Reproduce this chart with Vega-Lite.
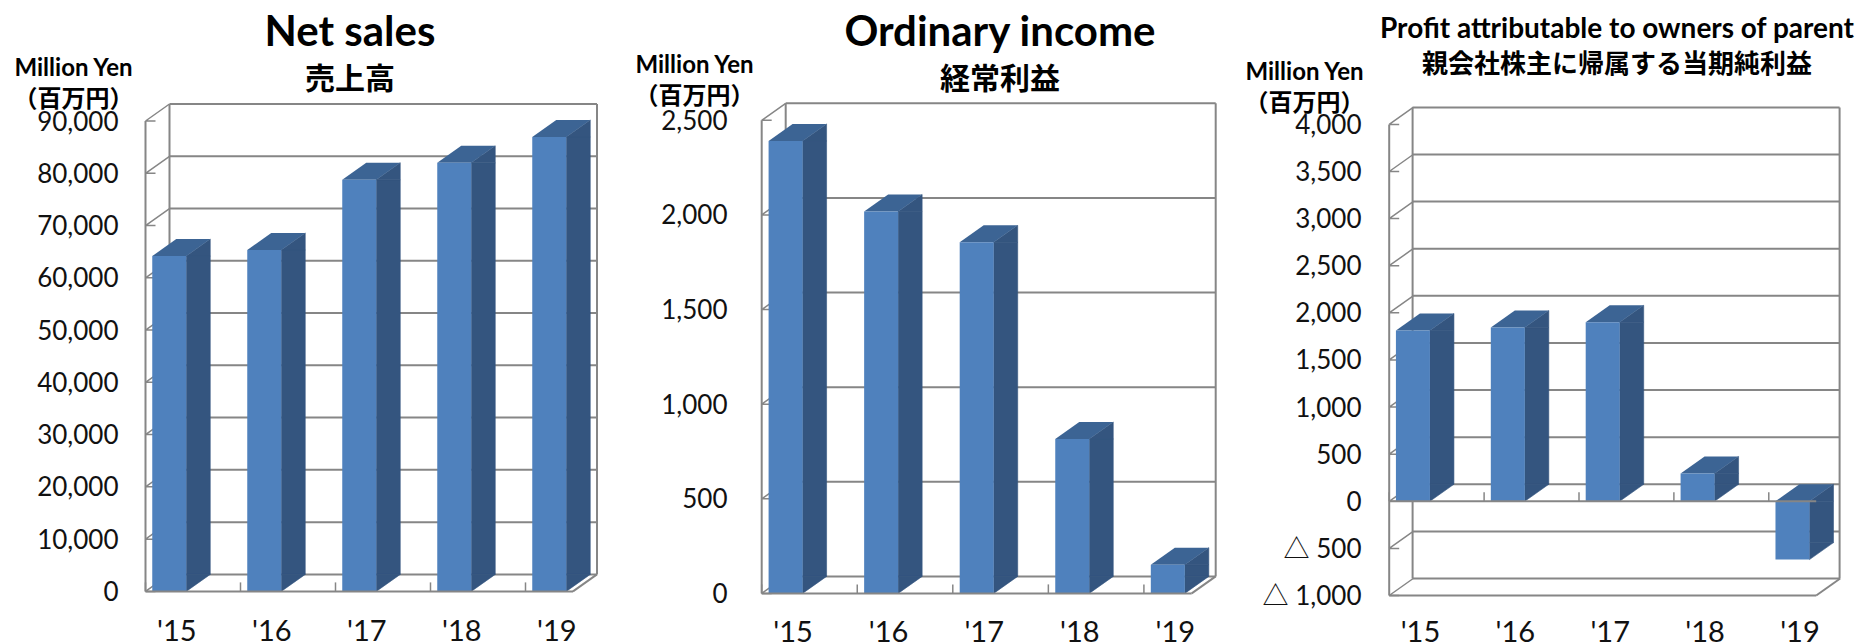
{"$schema":"https://vega.github.io/schema/vega-lite/v6.json","padding":0,"spacing":0,"background":"white","config":{"view":{"stroke":null},"font":"Lato","axis":{"grid":false,"domain":false,"ticks":false,"minExtent":0,"maxExtent":0,"labelFont":"Lato, Noto Sans CJK JP","labelFontSize":26,"labelColor":"#111111","labelOverlap":false,"labelFlush":false,"titleFont":"Lato, Noto Sans CJK JP","titleFontSize":24,"titleFontWeight":"bold","titleColor":"#000000"},"title":{"font":"Lato","fontWeight":"bold","color":"#000000","subtitleFont":"Noto Sans CJK JP","subtitleFontWeight":"bold","subtitleColor":"#000000"}},"datasets":{"sales":[{"year":2015,"value":64150},{"year":2016,"value":65330},{"year":2017,"value":78770},{"year":2018,"value":82000},{"year":2019,"value":86950}],"ordinary":[{"year":2015,"value":2391},{"year":2016,"value":2018},{"year":2017,"value":1855},{"year":2018,"value":816},{"year":2019,"value":152}],"profit":[{"year":2015,"value":1813},{"year":2016,"value":1844},{"year":2017,"value":1900},{"year":2018,"value":296},{"year":2019,"value":-619}],"t1":[{"tick":0},{"tick":10000},{"tick":20000},{"tick":30000},{"tick":40000},{"tick":50000},{"tick":60000},{"tick":70000},{"tick":80000},{"tick":90000}],"t2":[{"tick":0},{"tick":500},{"tick":1000},{"tick":1500},{"tick":2000},{"tick":2500}],"t3":[{"tick":-1000},{"tick":-500},{"tick":0},{"tick":500},{"tick":1000},{"tick":1500},{"tick":2000},{"tick":2500},{"tick":3000},{"tick":3500},{"tick":4000}],"one":[{"frame":1}]},"hconcat":[
{"width":620,"height":644,"title":{"text":"Net sales","subtitle":"売上高","fontSize":42,"subtitleFontSize":30,"anchor":"middle","frame":"group","dx":40,"offset":-96,"subtitlePadding":10},
"layer":[
{"data":{"name":"t1"},"mark":{"type":"rule","color":"#868686","strokeWidth":2,"xOffset":24,"x2Offset":24,"yOffset":-17},"encoding":{"y":{"field":"tick","type":"quantitative","scale":{"domain":[0,90000],"range":[591.4,121],"nice":false},"axis":{"values":[0,10000,20000,30000,40000,50000,60000,70000,80000,90000],"labelExpr":"format(datum.value, ',')","title":["Million Yen","（百万円）"],"titleAngle":0,"titleAlign":"center","titleBaseline":"middle","titleX":73,"titleY":68,"titleLineHeight":31,"labelPadding":-118,"labelOffset":1}},"x":{"datum":2014.75,"type":"quantitative","scale":{"domain":[2014.75,2019.25],"range":[145.5,573],"padding":0,"nice":false,"zero":false},"axis":{"values":[2015,2016,2017,2018,2019],"title":null,"labelExpr":"\"'\" + substring(toString(datum.value),2)","labelFontSize":29,"labelPadding":-27,"labelOffset":7}},"x2":{"datum":2019.25}}},
{"data":{"name":"one"},"mark":{"type":"rule","color":"#868686","strokeWidth":2,"xOffset":24,"yOffset":-17,"y2Offset":-17},"encoding":{"x":{"datum":2014.75,"type":"quantitative"},"y":{"datum":0,"type":"quantitative"},"y2":{"datum":90000}}},
{"data":{"name":"one"},"mark":{"type":"rule","color":"#868686","strokeWidth":2,"xOffset":24,"yOffset":-17,"y2Offset":-17},"encoding":{"x":{"datum":2019.25,"type":"quantitative"},"y":{"datum":0,"type":"quantitative"},"y2":{"datum":90000}}},
{"data":{"name":"one"},"mark":{"type":"rule","color":"#868686","strokeWidth":2},"encoding":{"x":{"datum":2014.75,"type":"quantitative"},"y":{"datum":0,"type":"quantitative"},"y2":{"datum":90000}}},
{"data":{"name":"t1"},"mark":{"type":"point","shape":"M0 0L24 -17M0 0L10 0","size":4,"filled":false,"stroke":"#868686","strokeWidth":1.5,"opacity":1},"encoding":{"x":{"datum":2014.75,"type":"quantitative"},"y":{"field":"tick","type":"quantitative"}}},
{"data":{"name":"one"},"mark":{"type":"point","shape":"M0 0L24 -17","size":4,"filled":false,"stroke":"#868686","strokeWidth":2,"opacity":1},"encoding":{"x":{"datum":2019.25,"type":"quantitative"},"y":{"datum":0,"type":"quantitative"}}},
{"data":{"name":"sales"},"mark":{"type":"rule","color":"#868686","strokeWidth":1.5,"xOffset":-23.75,"y2Offset":-9},"encoding":{"x":{"field":"year","type":"quantitative"},"y":{"datum":0,"type":"quantitative"},"y2":{"datum":0}}},
{"data":{"name":"sales"},"mark":{"type":"bar","orient":"vertical","color":"#34557f","stroke":"#34557f","strokeWidth":0.6,"width":24,"xOffset":29,"y2Offset":-17},"encoding":{"x":{"field":"year","type":"quantitative"},"y":{"field":"value","type":"quantitative"},"y2":{"datum":0}}},
{"data":{"name":"sales"},"mark":{"type":"point","shape":"M17 0L41 -17L41 0Z","size":4,"filled":true,"color":"#34557f","stroke":"#34557f","strokeWidth":0.6,"opacity":1},"encoding":{"x":{"field":"year","type":"quantitative"},"y":{"field":"value","type":"quantitative"}}},
{"data":{"name":"sales"},"mark":{"type":"point","shape":"M17 0L41 -17L17 -17Z","size":4,"filled":true,"color":"#34557f","stroke":"#34557f","strokeWidth":0.6,"opacity":1},"encoding":{"x":{"field":"year","type":"quantitative"},"y":{"datum":0,"type":"quantitative"}}},
{"data":{"name":"sales"},"mark":{"type":"point","shape":"M-17 0L7 -17L41 -17L17 0Z","size":4,"filled":true,"color":"#3c6494","opacity":1},"encoding":{"x":{"field":"year","type":"quantitative"},"y":{"field":"value","type":"quantitative"}}},
{"data":{"name":"sales"},"mark":{"type":"bar","orient":"vertical","color":"#4f81bd","width":34},"encoding":{"x":{"field":"year","type":"quantitative"},"y":{"field":"value","type":"quantitative"},"y2":{"datum":0}}},
{"data":{"name":"one"},"mark":{"type":"rule","color":"#868686","strokeWidth":2},"encoding":{"x":{"datum":2014.75,"type":"quantitative"},"x2":{"datum":2019.25},"y":{"datum":0,"type":"quantitative"}}}
]},
{"width":620,"height":644,"title":{"text":"Ordinary income","subtitle":"経常利益","fontSize":42,"subtitleFontSize":30,"anchor":"middle","frame":"group","dx":70,"offset":-96,"subtitlePadding":10},
"layer":[
{"data":{"name":"t2"},"mark":{"type":"rule","color":"#868686","strokeWidth":2,"xOffset":24,"x2Offset":24,"yOffset":-17},"encoding":{"y":{"field":"tick","type":"quantitative","scale":{"domain":[0,2500],"range":[593.4,120.3],"nice":false},"axis":{"values":[0,500,1000,1500,2000,2500],"labelExpr":"format(datum.value, ',')","title":["Million Yen","（百万円）"],"titleAngle":0,"titleAlign":"center","titleBaseline":"middle","titleX":74,"titleY":65,"titleLineHeight":31,"labelPadding":-107,"labelOffset":1}},"x":{"datum":2014.75,"type":"quantitative","scale":{"domain":[2014.75,2019.25],"range":[141.7,571.7],"padding":0,"nice":false,"zero":false},"axis":{"values":[2015,2016,2017,2018,2019],"title":null,"labelExpr":"\"'\" + substring(toString(datum.value),2)","labelFontSize":29,"labelPadding":-26,"labelOffset":7}},"x2":{"datum":2019.25}}},
{"data":{"name":"one"},"mark":{"type":"rule","color":"#868686","strokeWidth":2,"xOffset":24,"yOffset":-17,"y2Offset":-17},"encoding":{"x":{"datum":2014.75,"type":"quantitative"},"y":{"datum":0,"type":"quantitative"},"y2":{"datum":2500}}},
{"data":{"name":"one"},"mark":{"type":"rule","color":"#868686","strokeWidth":2,"xOffset":24,"yOffset":-17,"y2Offset":-17},"encoding":{"x":{"datum":2019.25,"type":"quantitative"},"y":{"datum":0,"type":"quantitative"},"y2":{"datum":2500}}},
{"data":{"name":"one"},"mark":{"type":"rule","color":"#868686","strokeWidth":2},"encoding":{"x":{"datum":2014.75,"type":"quantitative"},"y":{"datum":0,"type":"quantitative"},"y2":{"datum":2500}}},
{"data":{"name":"t2"},"mark":{"type":"point","shape":"M0 0L24 -17M0 0L10 0","size":4,"filled":false,"stroke":"#868686","strokeWidth":1.5,"opacity":1},"encoding":{"x":{"datum":2014.75,"type":"quantitative"},"y":{"field":"tick","type":"quantitative"}}},
{"data":{"name":"one"},"mark":{"type":"point","shape":"M0 0L24 -17","size":4,"filled":false,"stroke":"#868686","strokeWidth":2,"opacity":1},"encoding":{"x":{"datum":2019.25,"type":"quantitative"},"y":{"datum":0,"type":"quantitative"}}},
{"data":{"name":"ordinary"},"mark":{"type":"rule","color":"#868686","strokeWidth":1.5,"xOffset":-23.9,"y2Offset":-9},"encoding":{"x":{"field":"year","type":"quantitative"},"y":{"datum":0,"type":"quantitative"},"y2":{"datum":0}}},
{"data":{"name":"ordinary"},"mark":{"type":"bar","orient":"vertical","color":"#34557f","stroke":"#34557f","strokeWidth":0.6,"width":24,"xOffset":29,"y2Offset":-17},"encoding":{"x":{"field":"year","type":"quantitative"},"y":{"field":"value","type":"quantitative"},"y2":{"datum":0}}},
{"data":{"name":"ordinary"},"mark":{"type":"point","shape":"M17 0L41 -17L41 0Z","size":4,"filled":true,"color":"#34557f","stroke":"#34557f","strokeWidth":0.6,"opacity":1},"encoding":{"x":{"field":"year","type":"quantitative"},"y":{"field":"value","type":"quantitative"}}},
{"data":{"name":"ordinary"},"mark":{"type":"point","shape":"M17 0L41 -17L17 -17Z","size":4,"filled":true,"color":"#34557f","stroke":"#34557f","strokeWidth":0.6,"opacity":1},"encoding":{"x":{"field":"year","type":"quantitative"},"y":{"datum":0,"type":"quantitative"}}},
{"data":{"name":"ordinary"},"mark":{"type":"point","shape":"M-17 0L7 -17L41 -17L17 0Z","size":4,"filled":true,"color":"#3c6494","opacity":1},"encoding":{"x":{"field":"year","type":"quantitative"},"y":{"field":"value","type":"quantitative"}}},
{"data":{"name":"ordinary"},"mark":{"type":"bar","orient":"vertical","color":"#4f81bd","width":34},"encoding":{"x":{"field":"year","type":"quantitative"},"y":{"field":"value","type":"quantitative"},"y2":{"datum":0}}},
{"data":{"name":"one"},"mark":{"type":"rule","color":"#868686","strokeWidth":2},"encoding":{"x":{"datum":2014.75,"type":"quantitative"},"x2":{"datum":2019.25},"y":{"datum":0,"type":"quantitative"}}}
]},
{"width":622,"height":644,"title":{"text":"Profit attributable to owners of parent","subtitle":"親会社株主に帰属する当期純利益","fontSize":28,"subtitleFontSize":26,"anchor":"middle","frame":"group","dx":66,"offset":-78,"subtitlePadding":8},
"layer":[
{"data":{"name":"t3"},"mark":{"type":"rule","color":"#868686","strokeWidth":2,"xOffset":23.4,"x2Offset":23.4,"yOffset":-17},"encoding":{"y":{"field":"tick","type":"quantitative","scale":{"domain":[-1000,4000],"range":[595.5,124.4],"nice":false},"axis":{"values":[-1000,-500,0,500,1000,1500,2000,2500,3000,3500,4000],"title":["Million Yen","（百万円）"],"titleAngle":0,"titleAlign":"center","titleBaseline":"middle","titleX":64,"titleY":72,"titleLineHeight":31,"labelPadding":-121,"labelOffset":1,"labelExpr":"datum.value < 0 ? '△  ' + format(-datum.value, ',') : format(datum.value, ',')"}},"x":{"datum":2014.75,"type":"quantitative","scale":{"domain":[2014.75,2019.25],"range":[149.2,576.2],"padding":0,"nice":false,"zero":false},"axis":{"values":[2015,2016,2017,2018,2019],"title":null,"labelExpr":"\"'\" + substring(toString(datum.value),2)","labelFontSize":29,"labelPadding":-26,"labelOffset":7}},"x2":{"datum":2019.25}}},
{"data":{"name":"one"},"mark":{"type":"rule","color":"#868686","strokeWidth":2,"xOffset":23.4,"yOffset":-17,"y2Offset":-17},"encoding":{"x":{"datum":2014.75,"type":"quantitative"},"y":{"datum":-1000,"type":"quantitative"},"y2":{"datum":4000}}},
{"data":{"name":"one"},"mark":{"type":"rule","color":"#868686","strokeWidth":2,"xOffset":23.4,"yOffset":-17,"y2Offset":-17},"encoding":{"x":{"datum":2019.25,"type":"quantitative"},"y":{"datum":-1000,"type":"quantitative"},"y2":{"datum":4000}}},
{"data":{"name":"one"},"mark":{"type":"rule","color":"#868686","strokeWidth":2},"encoding":{"x":{"datum":2014.75,"type":"quantitative"},"y":{"datum":-1000,"type":"quantitative"},"y2":{"datum":4000}}},
{"data":{"name":"t3"},"mark":{"type":"point","shape":"M0 0L24 -17M0 0L10 0","size":4,"filled":false,"stroke":"#868686","strokeWidth":1.5,"opacity":1},"encoding":{"x":{"datum":2014.75,"type":"quantitative"},"y":{"field":"tick","type":"quantitative"}}},
{"data":{"name":"one"},"mark":{"type":"point","shape":"M0 0L24 -17","size":4,"filled":false,"stroke":"#868686","strokeWidth":2,"opacity":1},"encoding":{"x":{"datum":2019.25,"type":"quantitative"},"y":{"datum":-1000,"type":"quantitative"}}},
{"data":{"name":"one"},"mark":{"type":"rule","color":"#868686","strokeWidth":2},"encoding":{"x":{"datum":2014.75,"type":"quantitative"},"x2":{"datum":2019.25},"y":{"datum":-1000,"type":"quantitative"}}},
{"data":{"name":"profit"},"mark":{"type":"rule","color":"#868686","strokeWidth":1.5,"xOffset":-23.7,"y2Offset":-9},"encoding":{"x":{"field":"year","type":"quantitative"},"y":{"datum":0,"type":"quantitative"},"y2":{"datum":0}}},
{"data":{"name":"profit"},"transform":[{"filter":"datum.value >= 0"}],"mark":{"type":"bar","orient":"vertical","color":"#34557f","stroke":"#34557f","strokeWidth":0.6,"width":24,"xOffset":29,"y2Offset":-17},"encoding":{"x":{"field":"year","type":"quantitative"},"y":{"field":"value","type":"quantitative"},"y2":{"datum":0}}},
{"data":{"name":"profit"},"transform":[{"filter":"datum.value >= 0"}],"mark":{"type":"point","shape":"M17 0L41 -17L41 0Z","size":4,"filled":true,"color":"#34557f","stroke":"#34557f","strokeWidth":0.6,"opacity":1},"encoding":{"x":{"field":"year","type":"quantitative"},"y":{"field":"value","type":"quantitative"}}},
{"data":{"name":"profit"},"transform":[{"filter":"datum.value >= 0"}],"mark":{"type":"point","shape":"M17 0L41 -17L17 -17Z","size":4,"filled":true,"color":"#34557f","stroke":"#34557f","strokeWidth":0.6,"opacity":1},"encoding":{"x":{"field":"year","type":"quantitative"},"y":{"datum":0,"type":"quantitative"}}},
{"data":{"name":"profit"},"transform":[{"filter":"datum.value >= 0"}],"mark":{"type":"point","shape":"M-17 0L7 -17L41 -17L17 0Z","size":4,"filled":true,"color":"#3c6494","opacity":1},"encoding":{"x":{"field":"year","type":"quantitative"},"y":{"field":"value","type":"quantitative"}}},
{"data":{"name":"profit"},"transform":[{"filter":"datum.value < 0"}],"mark":{"type":"bar","orient":"vertical","color":"#34557f","stroke":"#34557f","strokeWidth":0.6,"width":24,"xOffset":29,"yOffset":-17},"encoding":{"x":{"field":"year","type":"quantitative"},"y":{"field":"value","type":"quantitative"},"y2":{"datum":0}}},
{"data":{"name":"profit"},"transform":[{"filter":"datum.value < 0"}],"mark":{"type":"point","shape":"M17 0L41 -17L41 0Z","size":4,"filled":true,"color":"#34557f","stroke":"#34557f","strokeWidth":0.6,"opacity":1},"encoding":{"x":{"field":"year","type":"quantitative"},"y":{"datum":0,"type":"quantitative"}}},
{"data":{"name":"profit"},"transform":[{"filter":"datum.value < 0"}],"mark":{"type":"point","shape":"M17 0L41 -17L17 -17Z","size":4,"filled":true,"color":"#34557f","stroke":"#34557f","strokeWidth":0.6,"opacity":1},"encoding":{"x":{"field":"year","type":"quantitative"},"y":{"field":"value","type":"quantitative"}}},
{"data":{"name":"profit"},"transform":[{"filter":"datum.value < 0"}],"mark":{"type":"point","shape":"M-17 0L7 -17L41 -17L17 0Z","size":4,"filled":true,"color":"#3c6494","opacity":1},"encoding":{"x":{"field":"year","type":"quantitative"},"y":{"datum":0,"type":"quantitative"}}},
{"data":{"name":"profit"},"mark":{"type":"bar","orient":"vertical","color":"#4f81bd","width":34},"encoding":{"x":{"field":"year","type":"quantitative"},"y":{"field":"value","type":"quantitative"},"y2":{"datum":0}}},
{"data":{"name":"one"},"mark":{"type":"rule","color":"#868686","strokeWidth":2},"encoding":{"x":{"datum":2014.75,"type":"quantitative"},"x2":{"datum":2019.25},"y":{"datum":0,"type":"quantitative"}}}
]}
]}
